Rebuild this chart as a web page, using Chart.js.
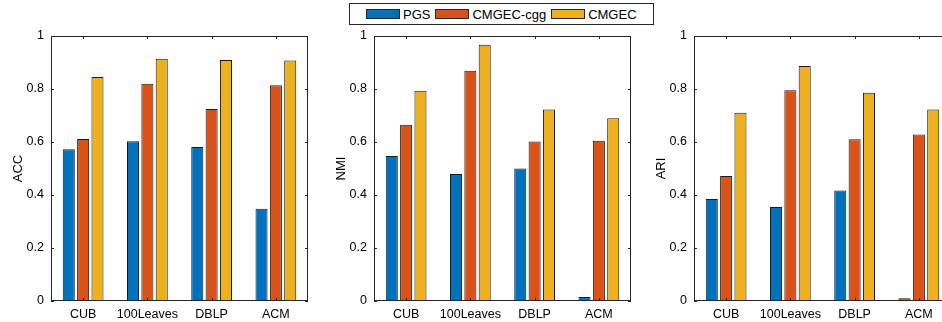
<!DOCTYPE html>
<html>
<head>
<meta charset="utf-8">
<script src="https://cdn.jsdelivr.net/npm/chart.js@4"></script>
<style>
  html, body { margin: 0; padding: 0; background: #fff; }
  body { width: 942px; height: 322px; overflow: hidden; position: relative; font-family: "Liberation Sans", Arial, sans-serif; }
  canvas { position: absolute; top: 0; }
  #legend { position: absolute; left: 349px; top: 3px; width: 305px; height: 22px; border: 1px solid #262626; background: #fff;
            display: flex; align-items: center; padding-left: 16px; box-sizing: border-box; font-size: 13px; color: #000; }
  #legend .sw { width: 32px; height: 8px; border: 1px solid #262626; margin-right: 3px; }
  #legend .it { display: flex; align-items: center; margin-right: 5px; }
</style>
</head>
<body>
<div id="legend"></div>
<canvas id="c1" width="311" height="322" style="left:0px"></canvas>
<canvas id="c2" width="311" height="322" style="left:323px"></canvas>
<canvas id="c3" width="311" height="322" style="left:643px"></canvas>
<script>
// datasets / groups
const categories = ['CUB', '100Leaves', 'DBLP', 'ACM'];
const methods = ['PGS', 'CMGEC-cgg', 'CMGEC'];
const colors = ['#0072BD', '#D95319', '#EDB120'];

// ACC
const accPGS = [0.573, 0.603, 0.581, 0.348];
const accCgg = [0.611, 0.820, 0.725, 0.814];
const accCmgec = [0.845, 0.914, 0.909, 0.908];
// NMI
const nmiPGS = [0.547, 0.479, 0.500, 0.015];
const nmiCgg = [0.665, 0.869, 0.602, 0.605];
const nmiCmgec = [0.793, 0.967, 0.723, 0.690];
// ARI
const ariPGS = [0.385, 0.355, 0.417, 0.010];
const ariCgg = [0.472, 0.795, 0.610, 0.628];
const ariCmgec = [0.710, 0.887, 0.786, 0.723];

const axisColor = '#262626';

// legend (html, built from the method names)
const legendEl = document.getElementById('legend');
methods.forEach((m, i) => {
    const it = document.createElement('div');
    it.className = 'it';
    const sw = document.createElement('div');
    sw.className = 'sw';
    sw.style.background = colors[i];
    const tx = document.createElement('span');
    tx.textContent = m;
    it.appendChild(sw);
    it.appendChild(tx);
    legendEl.appendChild(it);
});

// box round the axes + small inward ticks like matlab
const boxPlugin = {
    id: 'box',
    afterDatasetsDraw(chart) {
        const { ctx, chartArea: a, scales } = chart;
        ctx.save();
        ctx.strokeStyle = axisColor;
        ctx.lineWidth = 1;
        ctx.strokeRect(a.left + 0.5, a.top + 0.5, a.right - a.left - 1, a.bottom - a.top - 1);
        ctx.beginPath();
        scales.y.ticks.forEach((t) => {
            const y = Math.round(scales.y.getPixelForValue(t.value)) + 0.5;
            ctx.moveTo(a.left, y); ctx.lineTo(a.left + 3, y);
            ctx.moveTo(a.right - 3, y); ctx.lineTo(a.right, y);
        });
        categories.forEach((c, i) => {
            const x = Math.round(scales.x.getPixelForValue(i)) + 0.5;
            ctx.moveTo(x, a.bottom); ctx.lineTo(x, a.bottom - 3);
            ctx.moveTo(x, a.top); ctx.lineTo(x, a.top + 3);
        });
        ctx.stroke();
        ctx.restore();
    }
};

function makePanel(id, title, s1, s2, s3) {
    const series = [s1, s2, s3];
    return new Chart(document.getElementById(id).getContext('2d'), {
        type: 'bar',
        data: {
            labels: categories,
            datasets: methods.map((m, i) => ({
                label: m,
                data: series[i],
                backgroundColor: colors[i],
                borderColor: '#1a1a1a',
                borderWidth: 1,
                borderSkipped: 'bottom',
                categoryPercentage: 0.67,
                barPercentage: 0.84,
            })),
        },
        options: {
            responsive: false,
            animation: false,
            layout: { padding: { top: 36, right: 3, left: 0, bottom: 0 } },
            plugins: { legend: { display: false }, tooltip: { enabled: false } },
            scales: {
                x: {
                    grid: { display: false, drawTicks: false },
                    border: { display: false },
                    ticks: { color: '#000', font: { family: 'Liberation Sans', size: 12.5 }, padding: 6, maxRotation: 0, autoSkip: false },
                    afterFit: (s) => { s.height = 21; },
                },
                y: {
                    min: 0,
                    max: 1,
                    grid: { display: false, drawTicks: false },
                    border: { display: false },
                    ticks: {
                        stepSize: 0.2, color: '#000', font: { family: 'Liberation Sans', size: 12.5 }, padding: 7,
                        callback: (v) => String(Number(v.toFixed(1))),
                    },
                    title: { display: true, text: title, color: '#000', font: { family: 'Liberation Sans', size: 13 }, padding: { top: 11, bottom: 0 } },
                    afterFit: (s) => { s.width = 51; },
                },
            },
        },
        plugins: [boxPlugin],
    });
}

makePanel('c1', 'ACC', accPGS, accCgg, accCmgec);
makePanel('c2', 'NMI', nmiPGS, nmiCgg, nmiCmgec);
makePanel('c3', 'ARI', ariPGS, ariCgg, ariCmgec);
</script>
</body>
</html>
